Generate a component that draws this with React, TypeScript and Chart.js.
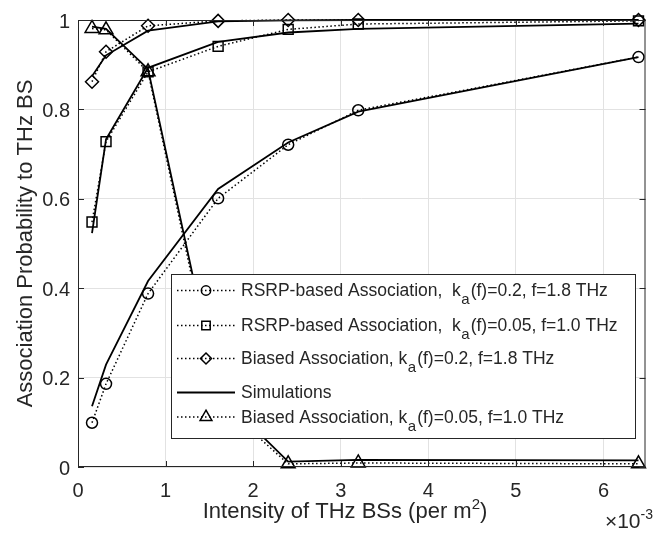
import React, { useEffect, useRef } from "react";
import { Chart, registerables } from "chart.js";

Chart.register(...registerables);

const FONT = '"Liberation Sans", Arial, Helvetica, sans-serif';
const TEXT = "#262626";

// Intensity of THz BSs (in units of 10^-3 per m^2)
const intensity = [0.16, 0.32, 0.8, 1.6, 2.4, 3.2, 6.4];

const rsrpHighAnalytic = [0.099, 0.186, 0.388, 0.601, 0.721, 0.798, 0.917];
const rsrpHighSim = [0.136, 0.229, 0.416, 0.622, 0.726, 0.795, 0.917];
const rsrpLowAnalytic = [0.548, 0.728, 0.884, 0.941, 0.979, 0.991, 0.998];
const rsrpLowSim = [0.523, 0.733, 0.893, 0.951, 0.972, 0.98, 0.992];
const biasedHighAnalytic = [0.862, 0.929, 0.987, 0.998, 1.0, 1.0, 1.0];
const biasedHighSim = [0.874, 0.921, 0.976, 0.997, 0.999, 1.0, 1.0];
const biasedLowAnalytic = [0.981, 0.978, 0.884, 0.148, 0.007, 0.009, 0.007];
const biasedLowSim = [0.985, 0.98, 0.89, 0.166, 0.012, 0.016, 0.015];

const xTicks = [0, 1, 2, 3, 4, 5, 6];
const yTicks = [0, 0.2, 0.4, 0.6, 0.8, 1];
const xMin = 0;
const xMax = 6.48;
const yMin = 0;
const yMax = 1;

const xTitle = "Intensity of THz BSs (per m";
const xTitleSup = "2";
const xTitleEnd = ")";
const yTitle = "Association Probability to THz BS";
const xExpBase = "\u00d710";
const xExp = "-3";

const legendEntries = [
  { pre: "RSRP-based Association,  k", sub: "a", post: "(f)=0.2, f=1.8 THz", marker: "circle", dotted: true },
  { pre: "RSRP-based Association,  k", sub: "a", post: "(f)=0.05, f=1.0 THz", marker: "rect", dotted: true },
  { pre: "Biased Association, k", sub: "a", post: "(f)=0.2, f=1.8 THz", marker: "rectRot", dotted: true },
  { pre: "Simulations", sub: "", post: "", marker: "none", dotted: false },
  { pre: "Biased Association, k", sub: "a", post: "(f)=0.05, f=1.0 THz", marker: "triangle", dotted: true },
];

const markerRadius: Record<string, number> = { circle: 5.5, rect: 7, rectRot: 6.5, triangle: 8 };
const DOT_DASH = [1.5, 2.5];

function drawMarker(ctx: CanvasRenderingContext2D, style: string, x: number, y: number, r: number) {
  ctx.beginPath();
  if (style === "circle") {
    ctx.arc(x, y, r, 0, Math.PI * 2);
  } else if (style === "rect") {
    const s = r * Math.SQRT1_2;
    ctx.rect(x - s, y - s, 2 * s, 2 * s);
  } else if (style === "rectRot") {
    ctx.moveTo(x, y - r);
    ctx.lineTo(x + r, y);
    ctx.lineTo(x, y + r);
    ctx.lineTo(x - r, y);
    ctx.closePath();
  } else if (style === "triangle") {
    ctx.moveTo(x, y - r);
    ctx.lineTo(x + 0.866 * r, y + 0.5 * r);
    ctx.lineTo(x - 0.866 * r, y + 0.5 * r);
    ctx.closePath();
  } else {
    return;
  }
  ctx.stroke();
}

const decorPlugin = {
  id: "matlabDecor",
  afterDatasetsDraw(chart: any) {
    const ctx: CanvasRenderingContext2D = chart.ctx;
    const { left, right, top, bottom } = chart.chartArea;
    const xs = chart.scales.x;
    const ys = chart.scales.y;
    ctx.save();

    // axes box
    ctx.strokeStyle = TEXT;
    ctx.lineWidth = 1;
    ctx.setLineDash([]);
    ctx.strokeRect(left + 0.5, top + 0.5, right - left - 1, bottom - top - 1);

    // inward tick marks on all four sides
    const tl = 6;
    ctx.beginPath();
    xTicks.forEach((v) => {
      const px = Math.round(xs.getPixelForValue(v)) + 0.5;
      ctx.moveTo(px, bottom);
      ctx.lineTo(px, bottom - tl);
      ctx.moveTo(px, top);
      ctx.lineTo(px, top + tl);
    });
    yTicks.forEach((v) => {
      const py = Math.round(ys.getPixelForValue(v)) + 0.5;
      ctx.moveTo(left, py);
      ctx.lineTo(left + tl, py);
      ctx.moveTo(right, py);
      ctx.lineTo(right - tl, py);
    });
    ctx.stroke();

    // legend
    const lx0 = 171, ly0 = 274, lx1 = 635, ly1 = 438;
    ctx.fillStyle = "#ffffff";
    ctx.fillRect(lx0, ly0, lx1 - lx0, ly1 - ly0);
    ctx.strokeStyle = TEXT;
    ctx.lineWidth = 1;
    ctx.strokeRect(lx0 + 0.5, ly0 + 0.5, lx1 - lx0, ly1 - ly0);
    const baselines = [296, 331, 364, 398, 422.5];
    const mainFont = `17.5px ${FONT}`;
    const subFont = `15px ${FONT}`;
    legendEntries.forEach((e, i) => {
      const bl = baselines[i];
      const cy = bl - 5.5;
      ctx.strokeStyle = "#000";
      if (e.dotted) {
        ctx.lineWidth = 1.5;
        ctx.setLineDash(DOT_DASH);
      } else {
        ctx.lineWidth = 1.8;
        ctx.setLineDash([]);
      }
      ctx.beginPath();
      ctx.moveTo(177, cy);
      ctx.lineTo(235, cy);
      ctx.stroke();
      ctx.setLineDash([]);
      ctx.lineWidth = 1.5;
      if (e.marker !== "none") drawMarker(ctx, e.marker, 206, cy, markerRadius[e.marker] * 0.85);
      ctx.fillStyle = TEXT;
      ctx.textAlign = "left";
      ctx.textBaseline = "alphabetic";
      let tx = 241;
      ctx.font = mainFont;
      ctx.fillText(e.pre, tx, bl);
      tx += ctx.measureText(e.pre).width;
      if (e.sub) {
        ctx.font = subFont;
        ctx.fillText(e.sub, tx + 0.5, bl + 8);
        tx += ctx.measureText(e.sub).width + 1.5;
      }
      if (e.post) {
        ctx.font = mainFont;
        ctx.fillText(e.post, tx, bl);
      }
    });

    // x axis title with superscript
    ctx.fillStyle = TEXT;
    ctx.textBaseline = "alphabetic";
    ctx.textAlign = "left";
    const tFont = `22px ${FONT}`;
    const supFont = `15px ${FONT}`;
    ctx.font = tFont;
    const w1 = ctx.measureText(xTitle).width;
    const w3 = ctx.measureText(xTitleEnd).width;
    ctx.font = supFont;
    const w2 = ctx.measureText(xTitleSup).width;
    let sx = 345 - (w1 + w2 + w3) / 2;
    const xb = 518;
    ctx.font = tFont;
    ctx.fillText(xTitle, sx, xb);
    sx += w1;
    ctx.font = supFont;
    ctx.fillText(xTitleSup, sx, xb - 9);
    sx += w2;
    ctx.font = tFont;
    ctx.fillText(xTitleEnd, sx, xb);

    // y axis title
    ctx.save();
    ctx.translate(32, (top + bottom) / 2);
    ctx.rotate(-Math.PI / 2);
    ctx.textAlign = "center";
    ctx.font = tFont;
    ctx.fillText(yTitle, 0, 0);
    ctx.restore();

    // exponent label
    ctx.font = `21px ${FONT}`;
    const eb = ctx.measureText(xExpBase).width;
    ctx.font = `14px ${FONT}`;
    const ee = ctx.measureText(xExp).width;
    let ex = 653 - eb - ee;
    ctx.font = `21px ${FONT}`;
    ctx.fillText(xExpBase, ex, 528);
    ex += eb;
    ctx.font = `14px ${FONT}`;
    ctx.fillText(xExp, ex, 519);

    ctx.restore();
  },
};

function analytic(values: number[], style: string) {
  return {
    data: intensity.map((x, i) => ({ x, y: values[i] })),
    borderColor: "#000",
    borderWidth: 1.5,
    borderDash: DOT_DASH,
    borderCapStyle: "butt",
    pointStyle: style,
    pointRadius: markerRadius[style],
    pointBorderWidth: 1.5,
    pointBorderColor: "#000",
    pointBackgroundColor: "rgba(0,0,0,0)",
    fill: false,
    tension: 0,
    clip: false,
  };
}

function simulation(values: number[]) {
  return {
    data: intensity.map((x, i) => ({ x, y: values[i] })),
    borderColor: "#000",
    borderWidth: 1.8,
    pointRadius: 0,
    fill: false,
    tension: 0,
    clip: false,
  };
}

export default function App() {
  const canvasRef = useRef<HTMLCanvasElement | null>(null);

  useEffect(() => {
    if (!canvasRef.current) return;
    const chart = new Chart(canvasRef.current, {
      type: "line",
      data: {
        datasets: [
          analytic(rsrpHighAnalytic, "circle"),
          analytic(rsrpLowAnalytic, "rect"),
          analytic(biasedHighAnalytic, "rectRot"),
          analytic(biasedLowAnalytic, "triangle"),
          simulation(rsrpHighSim),
          simulation(rsrpLowSim),
          simulation(biasedHighSim),
          simulation(biasedLowSim),
        ] as any,
      },
      options: {
        responsive: false,
        animation: false,
        events: [],
        layout: { padding: { left: 0, top: 13, right: 2, bottom: 0 } },
        plugins: { legend: { display: false }, tooltip: { enabled: false } },
        scales: {
          x: {
            type: "linear",
            min: xMin,
            max: xMax,
            afterBuildTicks: (s: any) => {
              s.ticks = xTicks.map((v) => ({ value: v }));
            },
            afterFit: (s: any) => {
              s.height = 69;
            },
            grid: { color: "#e2e2e2", lineWidth: 1, drawTicks: false },
            border: { display: false },
            ticks: {
              font: { family: FONT, size: 20 },
              color: TEXT,
              padding: 12,
              maxRotation: 0,
              autoSkip: false,
              callback: (v: any) => String(v),
            },
          },
          y: {
            type: "linear",
            min: yMin,
            max: yMax,
            afterBuildTicks: (s: any) => {
              s.ticks = yTicks.map((v) => ({ value: v }));
            },
            afterFit: (s: any) => {
              s.width = 78;
            },
            grid: { color: "#e2e2e2", lineWidth: 1, drawTicks: false },
            border: { display: false },
            ticks: {
              font: { family: FONT, size: 20 },
              color: TEXT,
              padding: 8,
              labelOffset: 2,
              autoSkip: false,
              callback: (v: any) => String(Math.round(Number(v) * 10) / 10),
            },
          },
        },
      } as any,
      plugins: [decorPlugin],
    });
    return () => chart.destroy();
  }, []);

  return (
    <div style={{ position: "absolute", left: 0, top: 0, width: 655, height: 536, background: "#fff" }}>
      <canvas ref={canvasRef} width={655} height={536} style={{ display: "block" }} />
    </div>
  );
}
